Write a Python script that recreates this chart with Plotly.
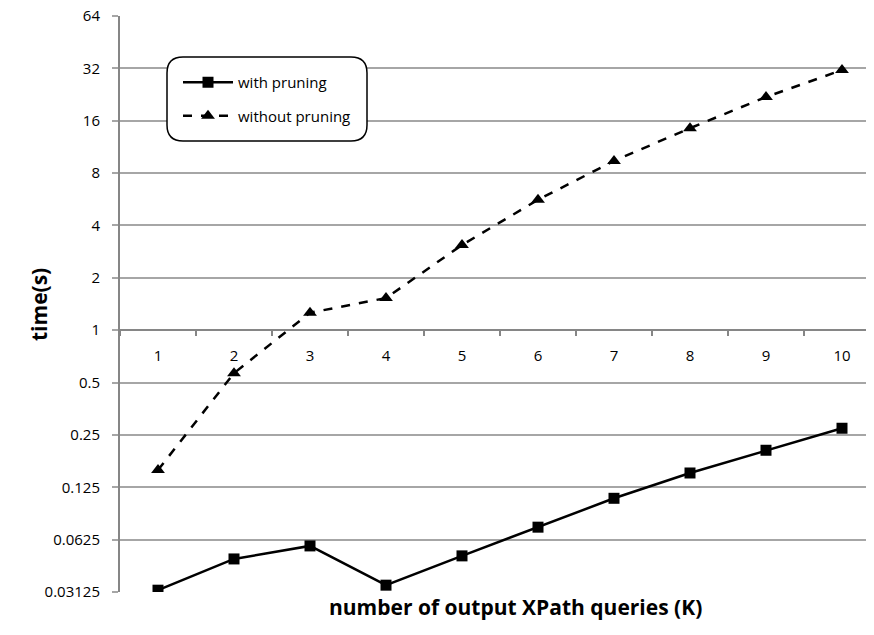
import math
import plotly.graph_objects as go

queries = [1, 2, 3, 4, 5, 6, 7, 8, 9, 10]
with_pruning = [0.0320, 0.0484, 0.0575, 0.0342, 0.0504, 0.0737, 0.108, 0.151, 0.204, 0.273]
without_pruning = [0.157, 0.566, 1.26, 1.53, 3.09, 5.62, 9.4, 14.5, 21.9, 31.3]
y_tick_vals = [0.03125, 0.0625, 0.125, 0.25, 0.5, 1, 2, 4, 8, 16, 32, 64]
y_tick_text = ["0.03125", "0.0625", "0.125", "0.25", "0.5", "1", "2", "4", "8", "16", "32", "64"]

# page body has an 8px margin; figure is sized/offset to compensate
OFF = 8
W, H = 874 - OFF, 635 - OFF
L, R, T, B = 120 - OFF, 0, 16 - OFF, 635 - 592
pw, ph = W - L - R, H - T - B

def px_x(x):  # screen px -> paper
    return (x - OFF - L) / pw

def px_y(y):
    return (H - B - (y - OFF)) / ph

FONT = "Open Sans"
GRID = "#A6A6A6"
AXIS = "#868686"
LOG2 = math.log10(2)
EPS = 1e-4

fig = go.Figure()
fig.add_trace(go.Scatter(
    x=queries, y=with_pruning, name="with pruning", mode="lines+markers",
    legendgroup="a",
    line=dict(color="black", width=2.5),
    marker=dict(symbol="square", size=11, color="black"),
))
fig.add_trace(go.Scatter(
    x=queries, y=without_pruning, name="without pruning", mode="lines+markers",
    legendgroup="b",
    line=dict(color="black", width=2.5, dash="dash"),
    marker=dict(symbol="triangle-up", size=12, color="black"),
))

# rounded legend box
x0, x1 = px_x(167), px_x(367)
y0, y1 = px_y(141), px_y(57)
rx, ry = 16 / pw, 16 / ph
path = (f"M {x0+rx},{y1} L {x1-rx},{y1} Q {x1},{y1} {x1},{y1-ry} "
        f"L {x1},{y0+ry} Q {x1},{y0} {x1-rx},{y0} L {x0+rx},{y0} "
        f"Q {x0},{y0} {x0},{y0+ry} L {x0},{y1-ry} Q {x0},{y1} {x0+rx},{y1} Z")
fig.add_shape(type="path", path=path, xref="paper", yref="paper",
              line=dict(color="black", width=1.5), fillcolor="white", layer="above")

fig.update_layout(
    width=W, height=H,
    margin=dict(l=L, r=R, t=T, b=B, autoexpand=False),
    paper_bgcolor="white", plot_bgcolor="white",
    font=dict(family=FONT, size=15, color="black"),
    showlegend=True,
    legend=dict(x=px_x(178), y=px_y(66), xanchor="left", yanchor="top",
                bgcolor="rgba(0,0,0,0)", borderwidth=0, traceorder="grouped",
                font=dict(family=FONT, size=15), itemwidth=50, tracegroupgap=11),
    xaxis=dict(
        range=[0.5, 0.5 + pw / 76], tickmode="array", tickvals=queries,
        ticktext=[str(q) for q in queries], ticks="", showgrid=False, zeroline=False,
        anchor="free", position=5 / 11, showline=True, linecolor=AXIS, linewidth=2,
        ticklabelstandoff=12, tickfont=dict(size=15), automargin=False,
        minor=dict(tickmode="linear", tick0=0.5, dtick=1, ticks="outside",
                   ticklen=5, tickcolor=AXIS, tickwidth=1.5, showgrid=False),
    ),
    yaxis=dict(
        type="log", range=[-5 * LOG2 - EPS, 6 * LOG2 + EPS],
        tickmode="array", tickvals=y_tick_vals, ticktext=y_tick_text,
        showgrid=True, gridcolor=GRID, gridwidth=1.5,
        showline=True, linecolor=AXIS, linewidth=2, automargin=False,
        ticks="outside", ticklen=6, tickcolor=GRID, tickwidth=1.5,
        ticklabelstandoff=9, ticklabeloverflow="allow",
        tickfont=dict(size=15), zeroline=False,
    ),
    annotations=[
        dict(text="<b>time(s)</b>", x=px_x(23), y=px_y(305), xref="paper", yref="paper",
             textangle=-90, showarrow=False, font=dict(size=21, family=FONT)),
        dict(text="<b>number of output XPath queries (K)</b>", x=px_x(516), y=px_y(623),
             xref="paper", yref="paper", showarrow=False, font=dict(size=21, family=FONT)),
    ],
)

fig.write_html("out.html")
